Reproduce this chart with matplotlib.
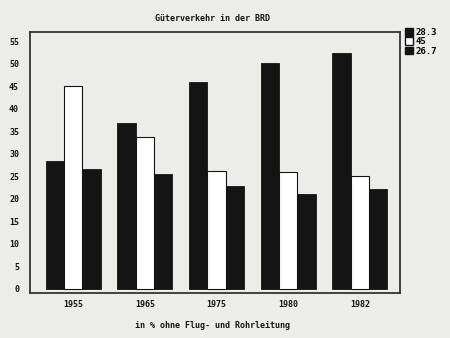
import matplotlib
matplotlib.use("Agg")
import matplotlib.pyplot as plt
import numpy as np
from matplotlib.patches import Patch

years = ["1955", "1965", "1975", "1980", "1982"]
series_a = [28.3, 36.9, 46.0, 50.2, 52.3]
series_b = [45.0, 33.8, 26.2, 25.9, 25.1]
series_c = [26.7, 25.5, 22.9, 21.1, 22.1]
legend_labels = ["28.3", "45", "26.7"]
yticks = list(range(0, 56, 5))

title = "Güterverkehr in der BRD"
xlabel = "in % ohne Flug- und Rohrleitung"

bg = "#ecece9"
ink = "#141414"
font = dict(family="DejaVu Sans Mono", weight="bold")

fig = plt.figure(figsize=(4.5, 3.38), dpi=100, facecolor=bg)
ax = fig.add_axes([0.067, 0.133, 0.822, 0.772])
ax.set_facecolor(bg)

x = np.arange(len(years))
w = 0.255
ax.bar(x - w, series_a, w, color=ink, edgecolor=ink, linewidth=0.6)
ax.bar(x, series_b, w, color="white", edgecolor=ink, linewidth=0.8)
ax.bar(x + w, series_c, w, color=ink, edgecolor=ink, linewidth=0.6)

ax.set_xlim(-0.60, 4.56)
ax.set_ylim(-0.9, 57)
ax.set_xticks(x)
ax.set_xticklabels(years, fontsize=6, **font)
ax.set_yticks(yticks)
ax.set_yticklabels([str(t) for t in yticks], fontsize=6, **font)
ax.tick_params(axis="y", length=0, pad=8, colors=ink)
ax.tick_params(axis="x", length=0, pad=5, colors=ink)
for s in ax.spines.values():
    s.set_linewidth(1.3)
    s.set_color("#333333")

fig.text(0.472, 0.945, title, ha="center", va="center", fontsize=6, color=ink, **font)
fig.text(0.472, 0.038, xlabel, ha="center", va="center", fontsize=6, color=ink, **font)

handles = [Patch(facecolor=ink, edgecolor=ink),
           Patch(facecolor="white", edgecolor=ink),
           Patch(facecolor=ink, edgecolor=ink)]
leg = ax.legend(handles, legend_labels, loc="upper left", bbox_to_anchor=(1.003, 1.03),
                frameon=False, handlelength=0.9, handleheight=0.9, handletextpad=0.3,
                labelspacing=0.05, borderaxespad=0.0,
                prop=dict(family="DejaVu Sans Mono", weight="bold", size=6.5))

fig.savefig("out.png", dpi=100, facecolor=bg)
